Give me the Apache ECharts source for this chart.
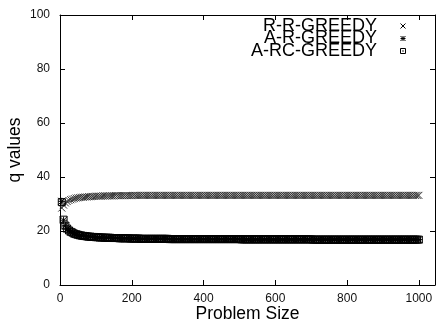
<!DOCTYPE html>
<html>
<head>
<meta charset="utf-8">
<script src="https://cdn.jsdelivr.net/npm/echarts@6/dist/echarts.min.js"></script>
<style>
  html, body { margin: 0; padding: 0; background: #fff; }
  #chart { width: 437px; height: 327px; }
</style>
</head>
<body>
<div id="chart"></div>
<script>
// Problem sizes at which q was measured (rows of 20)
var problemSizes = [
  5, 10, 15, 20, 25, 30, 35, 40, 45, 50, 55, 60, 65, 70, 75, 80, 85, 90, 95, 100,
  105, 110, 115, 120, 125, 130, 135, 140, 145, 150, 155, 160, 165, 170, 175, 180, 185, 190, 195, 200,
  205, 210, 215, 220, 225, 230, 235, 240, 245, 250, 255, 260, 265, 270, 275, 280, 285, 290, 295, 300,
  305, 310, 315, 320, 325, 330, 335, 340, 345, 350, 355, 360, 365, 370, 375, 380, 385, 390, 395, 400,
  405, 410, 415, 420, 425, 430, 435, 440, 445, 450, 455, 460, 465, 470, 475, 480, 485, 490, 495, 500,
  505, 510, 515, 520, 525, 530, 535, 540, 545, 550, 555, 560, 565, 570, 575, 580, 585, 590, 595, 600,
  605, 610, 615, 620, 625, 630, 635, 640, 645, 650, 655, 660, 665, 670, 675, 680, 685, 690, 695, 700,
  705, 710, 715, 720, 725, 730, 735, 740, 745, 750, 755, 760, 765, 770, 775, 780, 785, 790, 795, 800,
  805, 810, 815, 820, 825, 830, 835, 840, 845, 850, 855, 860, 865, 870, 875, 880, 885, 890, 895, 900,
  905, 910, 915, 920, 925, 930, 935, 940, 945, 950, 955, 960, 965, 970, 975, 980, 985, 990, 995, 1000
];

// q values, R-R-GREEDY
var rrGreedy = [
  28.5, 29.6, 30.4, 30.9, 31.3, 31.6, 31.8, 32.0, 32.2, 32.3, 32.4, 32.5, 32.5, 32.6, 32.6, 32.7, 32.7, 32.8, 32.8, 32.9,
  32.9, 32.9, 32.9, 33.0, 33.0, 33.0, 33.0, 33.0, 33.0, 33.0, 33.1, 33.1, 33.1, 33.1, 33.1, 33.1, 33.1, 33.1, 33.1, 33.1,
  33.2, 33.2, 33.2, 33.2, 33.2, 33.2, 33.2, 33.2, 33.2, 33.2, 33.2, 33.2, 33.2, 33.2, 33.2, 33.2, 33.2, 33.2, 33.2, 33.2,
  33.2, 33.2, 33.2, 33.2, 33.2, 33.2, 33.2, 33.2, 33.2, 33.2, 33.2, 33.2, 33.2, 33.2, 33.2, 33.2, 33.2, 33.2, 33.2, 33.2,
  33.2, 33.2, 33.2, 33.2, 33.2, 33.2, 33.2, 33.2, 33.2, 33.2, 33.2, 33.2, 33.2, 33.2, 33.2, 33.2, 33.2, 33.2, 33.2, 33.2,
  33.2, 33.2, 33.2, 33.2, 33.2, 33.2, 33.2, 33.2, 33.2, 33.2, 33.2, 33.2, 33.2, 33.2, 33.2, 33.2, 33.2, 33.2, 33.2, 33.2,
  33.2, 33.2, 33.2, 33.2, 33.2, 33.2, 33.2, 33.2, 33.2, 33.2, 33.2, 33.2, 33.2, 33.2, 33.2, 33.2, 33.2, 33.2, 33.2, 33.2,
  33.2, 33.2, 33.2, 33.2, 33.2, 33.2, 33.2, 33.2, 33.2, 33.2, 33.2, 33.2, 33.2, 33.2, 33.2, 33.2, 33.2, 33.2, 33.2, 33.2,
  33.2, 33.2, 33.2, 33.2, 33.2, 33.2, 33.2, 33.2, 33.2, 33.2, 33.2, 33.2, 33.2, 33.2, 33.2, 33.2, 33.2, 33.2, 33.2, 33.2,
  33.2, 33.2, 33.2, 33.2, 33.2, 33.2, 33.2, 33.2, 33.2, 33.2, 33.2, 33.2, 33.2, 33.2, 33.2, 33.2, 33.2, 33.2, 33.2, 33.2
];

// q values, A-R-GREEDY
var arGreedy = [
  31.0, 24.0, 21.9, 20.8, 20.2, 19.7, 19.4, 19.0, 18.8, 18.6, 18.4, 18.3, 18.2, 18.1, 18.0, 17.9, 17.9, 17.8, 17.8, 17.7,
  17.7, 17.6, 17.6, 17.6, 17.5, 17.5, 17.5, 17.5, 17.4, 17.4, 17.4, 17.4, 17.3, 17.3, 17.3, 17.3, 17.3, 17.3, 17.2, 17.2,
  17.2, 17.2, 17.2, 17.2, 17.1, 17.1, 17.1, 17.1, 17.1, 17.1, 17.1, 17.1, 17.1, 17.1, 17.1, 17.1, 17.1, 17.1, 17.1, 17.1,
  17.0, 17.0, 17.0, 17.0, 17.0, 17.0, 17.0, 17.0, 17.0, 17.0, 17.0, 17.0, 17.0, 17.0, 17.0, 17.0, 17.0, 17.0, 17.0, 17.0,
  17.0, 17.0, 17.0, 17.0, 17.0, 17.0, 17.0, 17.0, 17.0, 17.0, 17.0, 17.0, 17.0, 17.0, 17.0, 17.0, 17.0, 17.0, 17.0, 17.0,
  16.9, 16.9, 16.9, 16.9, 16.9, 16.9, 16.9, 16.9, 16.9, 16.9, 16.9, 16.9, 16.9, 16.9, 16.9, 16.9, 16.9, 16.9, 16.9, 16.9,
  16.9, 16.9, 16.9, 16.9, 16.9, 16.9, 16.9, 16.9, 16.9, 16.9, 16.9, 16.9, 16.9, 16.9, 16.9, 16.9, 16.9, 16.9, 16.9, 16.9,
  16.8, 16.8, 16.8, 16.8, 16.8, 16.8, 16.8, 16.8, 16.8, 16.8, 16.8, 16.8, 16.8, 16.8, 16.8, 16.8, 16.8, 16.8, 16.8, 16.8,
  16.8, 16.8, 16.8, 16.8, 16.8, 16.8, 16.8, 16.8, 16.8, 16.8, 16.8, 16.8, 16.8, 16.8, 16.8, 16.8, 16.8, 16.8, 16.8, 16.8,
  16.8, 16.8, 16.8, 16.8, 16.8, 16.8, 16.8, 16.8, 16.8, 16.8, 16.8, 16.8, 16.8, 16.8, 16.8, 16.8, 16.8, 16.8, 16.8, 16.8
];

// q values, A-RC-GREEDY
var arcGreedy = [
  30.7, 24.2, 22.0, 20.9, 20.2, 19.7, 19.4, 19.0, 18.8, 18.6, 18.4, 18.3, 18.2, 18.1, 18.0, 17.9, 17.9, 17.8, 17.8, 17.7,
  17.7, 17.6, 17.6, 17.6, 17.5, 17.5, 17.5, 17.5, 17.4, 17.4, 17.4, 17.4, 17.3, 17.3, 17.3, 17.3, 17.3, 17.3, 17.2, 17.2,
  17.2, 17.2, 17.2, 17.2, 17.1, 17.1, 17.1, 17.1, 17.1, 17.1, 17.1, 17.1, 17.1, 17.1, 17.1, 17.1, 17.1, 17.1, 17.1, 17.1,
  17.0, 17.0, 17.0, 17.0, 17.0, 17.0, 17.0, 17.0, 17.0, 17.0, 17.0, 17.0, 17.0, 17.0, 17.0, 17.0, 17.0, 17.0, 17.0, 17.0,
  17.0, 17.0, 17.0, 17.0, 17.0, 17.0, 17.0, 17.0, 17.0, 17.0, 17.0, 17.0, 17.0, 17.0, 17.0, 17.0, 17.0, 17.0, 17.0, 17.0,
  16.9, 16.9, 16.9, 16.9, 16.9, 16.9, 16.9, 16.9, 16.9, 16.9, 16.9, 16.9, 16.9, 16.9, 16.9, 16.9, 16.9, 16.9, 16.9, 16.9,
  16.9, 16.9, 16.9, 16.9, 16.9, 16.9, 16.9, 16.9, 16.9, 16.9, 16.9, 16.9, 16.9, 16.9, 16.9, 16.9, 16.9, 16.9, 16.9, 16.9,
  16.8, 16.8, 16.8, 16.8, 16.8, 16.8, 16.8, 16.8, 16.8, 16.8, 16.8, 16.8, 16.8, 16.8, 16.8, 16.8, 16.8, 16.8, 16.8, 16.8,
  16.8, 16.8, 16.8, 16.8, 16.8, 16.8, 16.8, 16.8, 16.8, 16.8, 16.8, 16.8, 16.8, 16.8, 16.8, 16.8, 16.8, 16.8, 16.8, 16.8,
  16.8, 16.8, 16.8, 16.8, 16.8, 16.8, 16.8, 16.8, 16.8, 16.8, 16.8, 16.8, 16.8, 16.8, 16.8, 16.8, 16.8, 16.8, 16.8, 16.8
];

var seriesNames = ['R-R-GREEDY', 'A-R-GREEDY', 'A-RC-GREEDY'];

var FONT = 'Liberation Sans, Arial, Helvetica, sans-serif';
var CROSS = 'path://M0,0L10,10M10,0L0,10';
var STAR = 'path://M0,0L10,10M10,0L0,10M5,0L5,10M0,5L10,5';
var BOXDOT = 'path://M0,0L10,0L10,10L0,10ZM4.5,4.5L5.5,4.5L5.5,5.5L4.5,5.5Z';

function pairs(ys) {
  return problemSizes.map(function (x, i) { return [x, ys[i]]; });
}

function markSeries(name, ys, symbol, stroke, size) {
  return {
    name: name,
    type: 'scatter',
    data: pairs(ys),
    symbol: symbol,
    symbolSize: size,
    symbolKeepAspect: true,
    animation: false,
    itemStyle: { color: 'rgba(0,0,0,0)', borderColor: stroke, borderWidth: 1, opacity: 1 },
    emphasis: { disabled: true }
  };
}

function legendRow(name, symbol, top) {
  return {
    data: [{ name: name, icon: symbol }],
    right: 31,
    top: top,
    align: 'right',
    orient: 'vertical',
    padding: 0,
    itemWidth: 42,
    itemHeight: 5,
    selectedMode: false,
    symbolKeepAspect: true,
    itemStyle: { color: 'rgba(0,0,0,0)', borderColor: '#000', borderWidth: 1 },
    textStyle: { fontFamily: FONT, fontSize: 18, color: '#000', lineHeight: 18 }
  };
}

var tickLabelStyle = { fontFamily: FONT, fontSize: 12, color: '#111' };
var axisLineStyle = { onZero: false, lineStyle: { color: '#000', width: 1 } };
var tickStyle = { inside: true, length: 5, lineStyle: { color: '#000', width: 1 } };

var chart = echarts.init(document.getElementById('chart'), null, { renderer: 'canvas' });
chart.setOption({
  backgroundColor: '#fff',
  animation: false,
  grid: { left: 60, right: 2, top: 15, bottom: 42, containLabel: false, outerBoundsMode: 'none' },
  legend: [
    legendRow(seriesNames[0], CROSS, 17),
    legendRow(seriesNames[1], STAR, 29.5),
    legendRow(seriesNames[2], BOXDOT, 42)
  ],
  xAxis: [
    {
      type: 'value', position: 'bottom', min: 0, max: 1045, interval: 200,
      axisLine: axisLineStyle, axisTick: tickStyle, splitLine: { show: false },
      axisLabel: Object.assign({ margin: 8, showMaxLabel: false,
        formatter: function (v) { return v % 200 === 0 ? String(v) : ''; } }, tickLabelStyle),
      name: 'Problem Size', nameLocation: 'middle', nameGap: 20, nameMoveOverlap: false,
      nameTextStyle: { fontFamily: FONT, fontSize: 17.5, color: '#000' }
    },
    {
      type: 'value', position: 'top', min: 0, max: 1045, interval: 200,
      axisLine: axisLineStyle, axisTick: tickStyle, splitLine: { show: false },
      axisLabel: { show: false }
    }
  ],
  yAxis: [
    {
      type: 'value', position: 'left', min: 0, max: 100, interval: 20,
      axisLine: axisLineStyle, axisTick: tickStyle, splitLine: { show: false },
      axisLabel: Object.assign({ margin: 10 }, tickLabelStyle),
      name: 'q values', nameLocation: 'middle', nameGap: 36, nameMoveOverlap: false,
      nameTextStyle: { fontFamily: FONT, fontSize: 17.5, color: '#000' }
    },
    {
      type: 'value', position: 'right', min: 0, max: 100, interval: 20,
      axisLine: axisLineStyle, axisTick: tickStyle, splitLine: { show: false },
      axisLabel: { show: false }
    }
  ],
  series: [
    markSeries(seriesNames[0], rrGreedy, CROSS, '#333', 7),
    markSeries(seriesNames[1], arGreedy, STAR, '#000', 7),
    markSeries(seriesNames[2], arcGreedy, BOXDOT, '#000', 7)
  ]
});
</script>
</body>
</html>
